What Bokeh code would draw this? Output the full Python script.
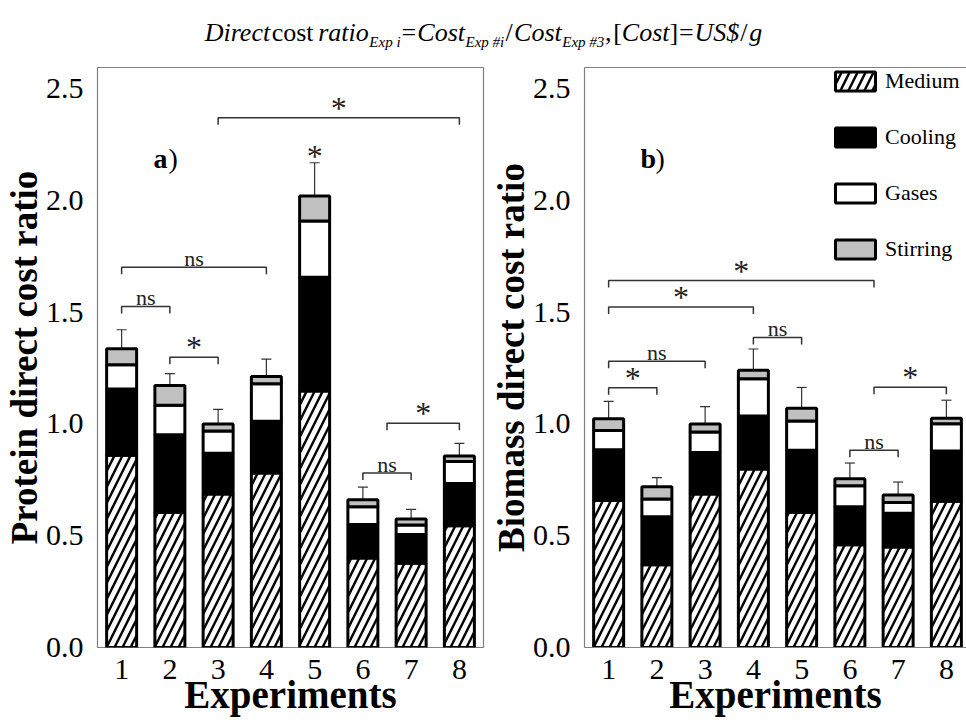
import numpy as np
from bokeh.plotting import figure
from bokeh.models import (ColumnDataSource, FixedTicker, Whisker, TeeHead, Label,
                          Legend, LegendItem, LinearAxis)
from bokeh.layouts import column, row
from bokeh.embed import file_html
from bokeh.resources import INLINE
from bokeh.core.properties import value

FONT = "Liberation Serif"

# ---------------- data ----------------
experiments = [1, 2, 3, 4, 5, 6, 7, 8]
x_tick_labels = ["1", "2", "3", "4", "5", "6", "7", "8"]
y_ticks = [0.0, 0.5, 1.0, 1.5, 2.0, 2.5]
y_tick_labels = ["0.0", "0.5", "1.0", "1.5", "2.0", "2.5"]
components = ["Medium", "Cooling", "Gases", "Stirring"]

protein_medium = [0.860, 0.605, 0.686, 0.780, 1.147, 0.400, 0.377, 0.544]
protein_cooling = [0.296, 0.346, 0.183, 0.232, 0.509, 0.150, 0.128, 0.190]
protein_gases = [0.109, 0.132, 0.099, 0.168, 0.251, 0.080, 0.043, 0.098]
protein_stirring = [0.071, 0.089, 0.032, 0.032, 0.112, 0.031, 0.027, 0.025]
protein_error = [0.085, 0.053, 0.065, 0.078, 0.149, 0.056, 0.043, 0.056]

biomass_medium = [0.657, 0.370, 0.686, 0.798, 0.605, 0.459, 0.449, 0.654]
biomass_cooling = [0.227, 0.215, 0.186, 0.237, 0.277, 0.171, 0.151, 0.225]
biomass_gases = [0.087, 0.079, 0.092, 0.167, 0.131, 0.093, 0.049, 0.122]
biomass_stirring = [0.052, 0.055, 0.036, 0.038, 0.057, 0.032, 0.033, 0.024]
biomass_error = [0.078, 0.041, 0.077, 0.095, 0.093, 0.070, 0.058, 0.081]

# significance brackets (from experiment, to experiment, level, text)
protein_sig_from = [1, 2, 1, 6, 6.5, 3]
protein_sig_to = [2, 3, 4, 7, 8, 8]
protein_sig_level = [1.525, 1.298, 1.701, 0.780, 1.003, 2.369]
protein_sig_text = ["ns", "*", "ns", "ns", "*", "*"]
protein_mark_x = [5]
protein_mark_level = [2.208]
protein_mark_text = ["*"]

biomass_sig_from = [1, 1, 4, 1, 1, 6, 6.5]
biomass_sig_to = [6.5, 4, 5, 3, 2, 7, 8]
biomass_sig_level = [1.641, 1.523, 1.387, 1.280, 1.162, 0.882, 1.164]
biomass_sig_text = ["*", "*", "ns", "ns", "*", "ns", "*"]
biomass_mark_x = []
biomass_mark_level = []
biomass_mark_text = []

# ---------------- layout constants ----------------
Y_MAX = 2.594
TITLE_H = 50
PANEL_H = 676
TOP = 17
BOTTOM = 79
FRAME_H = PANEL_H - TOP - BOTTOM
PPU = FRAME_H / Y_MAX
GREY = "#808080"
ERR = "#333333"


def make_panel(width, left, right, x_end, medium, cooling, gases, stirring, error,
               sig_from, sig_to, sig_level, sig_text, mark_x, mark_level, mark_text,
               ylabel, letter, full_box):
    p = figure(width=width, height=PANEL_H, x_range=(0.5, x_end), y_range=(0, Y_MAX),
               output_backend="svg", toolbar_location=None,
               min_border_left=left, min_border_right=right,
               min_border_top=TOP, min_border_bottom=BOTTOM)
    p.grid.visible = False
    cat_px = (width - left - right) / (x_end - 0.5)
    bw = 30 / cat_px

    med = np.array(medium)
    cool = med + np.array(cooling)
    gas = cool + np.array(gases)
    stir = gas + np.array(stirring)
    err = np.array(error)
    src = ColumnDataSource(dict(x=experiments, med=med, cool=cool, gas=gas, stir=stir,
                                upper=stir + err, lower=stir - err))

    r_med = p.vbar(x="x", width=bw, bottom=0, top="med", source=src,
                   fill_color="white", hatch_pattern="/", hatch_color="black",
                   hatch_weight=2.4, hatch_scale=16, line_color="black", line_width=3)
    r_cool = p.vbar(x="x", width=bw, bottom="med", top="cool", source=src,
                    fill_color="black", line_color="black", line_width=3)
    r_gas = p.vbar(x="x", width=bw, bottom="cool", top="gas", source=src,
                   fill_color="white", line_color="black", line_width=3)
    r_stir = p.vbar(x="x", width=bw, bottom="gas", top="stir", source=src,
                    fill_color="#c0c0c0", line_color="black", line_width=3)

    w = Whisker(base="x", upper="upper", lower="lower", source=src,
                line_color=ERR, line_width=1.2,
                upper_head=TeeHead(size=10, line_color=ERR, line_width=1.2),
                lower_head=TeeHead(size=10, line_color=ERR, line_width=1.2))
    p.add_layout(w)

    # brackets
    tick = 7 / PPU
    xs, ys = [], []
    tx, ty, tt, tf = [], [], [], []
    for a, b, lv, t in zip(sig_from, sig_to, sig_level, sig_text):
        xs.append([a, a, b, b])
        ys.append([lv - tick, lv, lv, lv - tick])
        tx.append((a + b) / 2)
        if t == "*":
            ty.append(lv + 10 / PPU)
            tf.append("32px")
        else:
            ty.append(lv + 9 / PPU)
            tf.append("22px")
        tt.append(t)
    for a, lv, t in zip(mark_x, mark_level, mark_text):
        tx.append(a)
        ty.append(lv - 2 / PPU)
        tf.append("32px")
        tt.append(t)
    p.multi_line(xs=xs, ys=ys, line_color=ERR, line_width=1.5)
    p.text(x=tx, y=ty, text=tt, text_font_size=tf, text_font=value(FONT),
           text_align="center", text_baseline="alphabetic", text_color="#222222")

    # axes
    p.xaxis.ticker = FixedTicker(ticks=experiments)
    p.xaxis.major_label_overrides = {e: l for e, l in zip(experiments, x_tick_labels)}
    p.yaxis.ticker = FixedTicker(ticks=y_ticks)
    p.yaxis.major_label_overrides = {t: l for t, l in zip(y_ticks, y_tick_labels)}
    for ax in p.axis:
        ax.major_tick_line_color = None
        ax.minor_tick_line_color = None
        ax.major_tick_out = 0
        ax.major_tick_in = 0
        ax.minor_tick_out = 0
        ax.minor_tick_in = 0
        ax.major_label_text_font = FONT
        ax.major_label_text_font_size = "30px"
        ax.major_label_text_color = "black"
        ax.axis_label_text_font = FONT
        ax.axis_label_text_font_style = "bold"
        ax.axis_label_text_color = "black"
    p.yaxis.axis_label_text_font_size = "37px"
    p.xaxis.axis_label_text_font_size = "39px"
    p.yaxis.major_label_standoff = 14
    p.xaxis.major_label_standoff = 12
    p.yaxis.axis_label = ylabel
    p.yaxis.axis_label_standoff = -2
    p.xaxis.axis_label = "Experiments"
    p.xaxis.axis_label_standoff = -9
    if full_box:
        p.outline_line_color = GREY
        p.outline_line_width = 1.2
        p.axis.axis_line_color = None
    else:
        p.outline_line_color = None
        p.axis.axis_line_color = GREY
        p.axis.axis_line_width = 1.2
        top = LinearAxis(ticker=FixedTicker(ticks=[]), major_tick_line_color=None,
                         minor_tick_line_color=None, major_tick_out=0, major_tick_in=0,
                         minor_tick_out=0, major_label_text_font_size="0px",
                         axis_line_color=GREY, axis_line_width=1.2, major_label_standoff=0)
        p.add_layout(top, "above")

    # panel letter
    lx = 0.5 + 56 / cat_px
    ly = (FRAME_H - 91) / PPU
    p.add_layout(Label(x=lx, y=ly, text=letter, text_font=FONT, text_font_style="bold",
                       text_font_size="28px", text_baseline="alphabetic", text_color="black"))
    p.add_layout(Label(x=lx + 15 / cat_px, y=ly, text=")", text_font=FONT,
                       text_font_size="28px", text_baseline="alphabetic", text_color="black"))
    return p, [r_med, r_cool, r_gas, r_stir]


p1, _ = make_panel(487, 97, 4, 8.5, protein_medium, protein_cooling, protein_gases,
                   protein_stirring, protein_error, protein_sig_from, protein_sig_to,
                   protein_sig_level, protein_sig_text, protein_mark_x, protein_mark_level,
                   protein_mark_text, "Protein direct cost ratio", "a", True)
p2, rends = make_panel(479, 97, 0, 8.417, biomass_medium, biomass_cooling, biomass_gases,
                       biomass_stirring, biomass_error, biomass_sig_from, biomass_sig_to,
                       biomass_sig_level, biomass_sig_text, biomass_mark_x,
                       biomass_mark_level, biomass_mark_text,
                       "Biomass direct cost ratio", "b", False)

legend = Legend(items=[LegendItem(label=c, renderers=[r]) for c, r in zip(components, rends)],
                location=(246, FRAME_H - 9 - 186), orientation="vertical", glyph_width=50,
                glyph_height=24, label_height=24, spacing=30, padding=0, margin=0,
                border_line_color=None, background_fill_alpha=0, label_text_font=FONT,
                label_text_font_size="22px", label_standoff=5, label_text_color="black")
p2.add_layout(legend)

# ---------------- title ----------------
t = figure(width=966, height=TITLE_H, x_range=(0, 966), y_range=(0, TITLE_H),
           x_axis_type=None, y_axis_type=None, output_backend="svg",
           toolbar_location=None, min_border=0, outline_line_color=None)
t.grid.visible = False
M, S = 26, 15
pieces = [  # text, size, style, advance (em), gap before (em of M)
    ("Direct", M, "italic", 2.555, 0), ("cost", M, "normal", 1.611, 0.02),
    ("ratio", M, "italic", 1.945, 0.18), ("Exp i", S, "italic", 2.083, 0.02),
    ("=", M, "normal", 0.564, 0.04), ("Cost", M, "italic", 1.834, 0.04),
    ("Exp #i", S, "italic", 2.583, 0.02), ("/", M, "normal", 0.278, 0.05),
    ("Cost", M, "italic", 1.834, 0.05), ("Exp #3", S, "italic", 2.805, 0.02),
    (",", M, "normal", 0.25, 0.02), ("[", M, "normal", 0.333, 0.07),
    ("Cost", M, "italic", 1.834, 0.0), ("]", M, "normal", 0.333, 0.0),
    ("=", M, "normal", 0.564, 0.03), ("US$", M, "italic", 1.722, 0.03),
    ("/", M, "normal", 0.278, 0.04), ("g", M, "italic", 0.5, 0.07),
]
total = sum(adv * sz + gap * M for _, sz, _, adv, gap in pieces)
cx = 483 - total / 2
for txt, sz, style, adv, gap in pieces:
    cx += gap * M
    base = 18 if sz == M else 9
    t.add_layout(Label(x=cx, y=base, text=txt, text_font=FONT, text_font_style=style,
                       text_font_size=f"{sz}px", text_baseline="alphabetic",
                       text_color="black"))
    cx += adv * sz

layout = column(t, row(p1, p2))
open("out.html", "w").write(file_html(layout, INLINE))
